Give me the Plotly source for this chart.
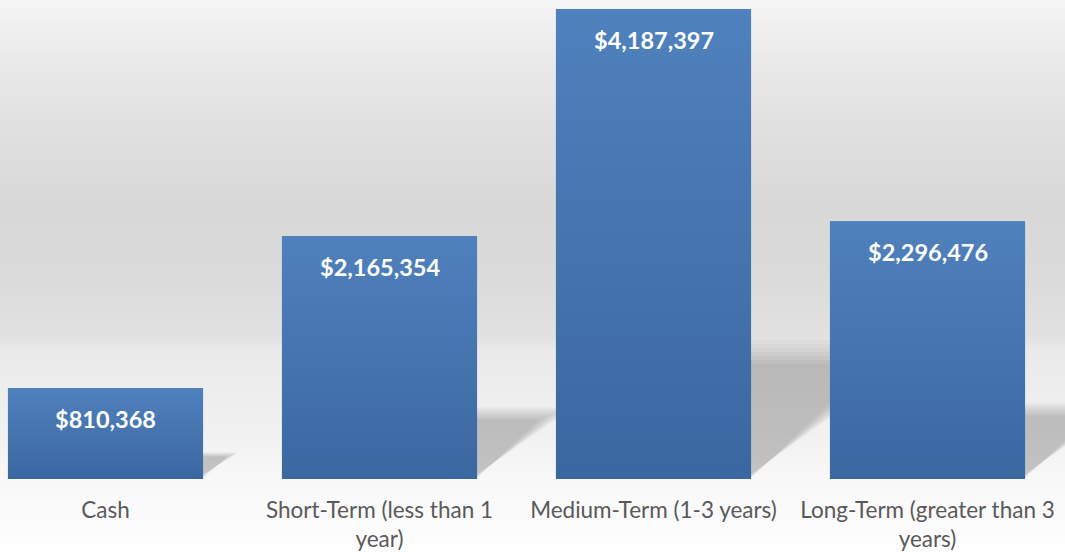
import plotly.graph_objects as go

categories = ["Cash", "Short-Term (less than 1 year)", "Medium-Term (1-3 years)", "Long-Term (greater than 3 years)"]
tick_labels = ["Cash", "Short-Term (less than 1<br>year)", "Medium-Term (1-3 years)", "Long-Term (greater than 3<br>years)"]
values = [810368, 2165354, 4187397, 2296476]
value_labels = ["$810,368", "$2,165,354", "$4,187,397", "$2,296,476"]

W, H = 1065, 552
M_B = 73
PLOT_H = H - M_B
BAR_W = 0.712
PX_PER_CAT = 274.0
X0 = -105.5 / PX_PER_CAT
X1 = (W - 105.5) / PX_PER_CAT
Y_MAX = max(values) * PLOT_H / 470.0

idx = list(range(len(categories)))

fig = go.Figure()

# base bars
fig.add_trace(go.Bar(x=idx, y=values, width=BAR_W, marker=dict(color="#4574ae", line=dict(width=0)),
                     hoverinfo="skip", showlegend=False))

# gradient overlays built from the same values
for i, v in zip(idx, values):
    xl, xr = i - BAR_W / 2, i + BAR_W / 2
    fig.add_trace(go.Scatter(
        x=[xl, xr, xr, xl, xl], y=[0, 0, v, v, 0], mode="lines", fill="toself",
        line=dict(width=0, color="rgba(0,0,0,0)"),
        fillgradient=dict(type="vertical", colorscale=[[0, "#3b67a1"], [1, "#4f81bd"]]),
        hoverinfo="skip", showlegend=False))

shapes = []
# background gradient (pixel-y stops -> gray level)
stops = [(0, 0xf5), (60, 0xea), (130, 0xe0), (210, 0xd8), (280, 0xdb), (340, 0xe2),
         (350, 0xea), (400, 0xee), (450, 0xf3), (480, 0xf8), (552, 0xfe)]

def gray_at(p):
    for (a, ga), (b, gb) in zip(stops[:-1], stops[1:]):
        if a <= p <= b:
            t = (p - a) / (b - a) if b > a else 0
            return int(round(ga + (gb - ga) * t))
    return stops[-1][1]

step = 4
for p in range(0, H, step):
    g = gray_at(p + step / 2)
    y_top = 1 - p / PLOT_H
    y_bot = 1 - (p + step) / PLOT_H
    shapes.append(dict(type="rect", xref="paper", yref="paper", x0=0, x1=1, y0=y_bot, y1=y_top + 0.001,
                       fillcolor=f"rgb({g},{g},{g})", line=dict(width=0), layer="below"))

# soft shadows (derived from values)
y_per_px = Y_MAX / PLOT_H
layers = 7
for i, v in zip(idx, values):
    xl, xr = i - BAR_W / 2, i + BAR_W / 2
    h_px = v / y_per_px
    for j in range(layers):
        t = j / (layers - 1)
        k = 0.295 - 0.05 * t
        sc = 1.35 - 0.3 * t
        bot = (5 - 4 * t) * y_per_px
        top = v * k
        shift = sc * k * h_px / PX_PER_CAT
        path = f"M {xl},{bot} L {xr},{bot} L {xr+shift},{top} L {xl+shift},{top} Z"
        shapes.append(dict(type="path", xref="x", yref="y", path=path, fillcolor="black",
                           opacity=0.032, line=dict(width=0), layer="below"))

annotations = []
for i, v, t in zip(idx, values, value_labels):
    annotations.append(dict(x=i, y=v, xref="x", yref="y", text=t, showarrow=False, yanchor="middle",
                            yshift=-31, font=dict(family="Lato", size=23.5, color="white", weight="bold")))

fig.update_layout(
    width=W, height=H,
    margin=dict(l=0, r=0, t=0, b=M_B),
    paper_bgcolor="white",
    plot_bgcolor="rgba(0,0,0,0)",
    showlegend=False,
    shapes=shapes,
    annotations=annotations,
    xaxis=dict(range=[X0, X1], tickvals=idx, ticktext=tick_labels, showgrid=False, zeroline=False,
               showline=False, ticks="", tickfont=dict(family="Lato", size=22.5, color="#595959"),
               ticklabelstandoff=15, fixedrange=True),
    yaxis=dict(range=[0, Y_MAX], visible=False, fixedrange=True),
)

fig.write_html("out.html", config={"displayModeBar": False},
               post_script="document.body.style.margin='0';document.body.style.overflow='hidden';")
